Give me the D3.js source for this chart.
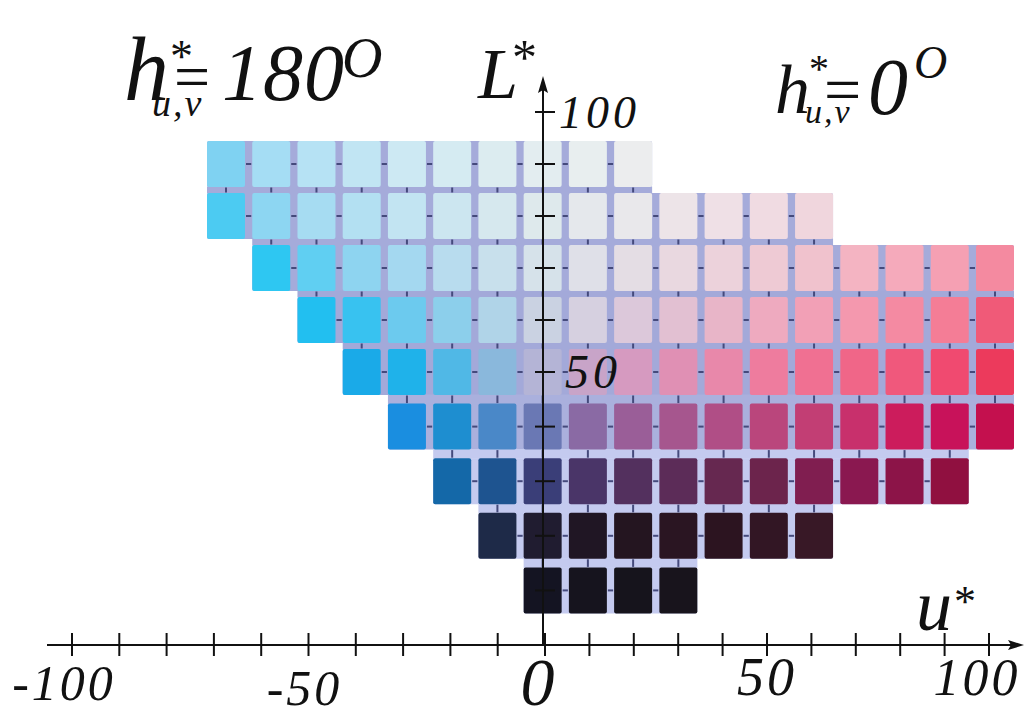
<!DOCTYPE html>
<html><head><meta charset="utf-8">
<script src="https://cdn.jsdelivr.net/npm/d3@7"></script>
<style>
html,body{margin:0;padding:0;background:#fff;}
svg{display:block;}
text{font-family:"Liberation Serif","Times New Roman",serif;font-style:italic;fill:#111;}
</style>
</head><body>
<svg id="c" width="1024" height="720"></svg>
<script>
// ---- data ----
const lightnessRows = [90, 80, 70, 60, 50, 40, 30, 20, 10];
const uCategories = [-70, -60, -50, -40, -30, -20, -10, 0, 10, 20, 30, 40, 50, 60, 70, 80, 90, 100];
const rowSpans = [[-70, 20], [-70, 60], [-60, 100], [-50, 100], [-40, 100], [-30, 100], [-20, 90], [-10, 60], [0, 30]];
const rowColors = [
  ["#7fd2f2","#a5ddf4","#b6e2f4","#c1e5f3","#cde9f3","#d5ebf2","#dcecf0","#e3edf0","#e8eeef","#ecedee"],
  ["#4ccbf2","#8dd6f2","#a6dcf2","#b3e0f2","#c2e4f2","#cce6f0","#d6e8ee","#dee9ec","#e5e8ec","#e9e8eb","#ede4e8","#efe0e6","#f0dbe2","#f0d6dd"],
  ["#2ec7f2","#60cff2","#8ed4f0","#a4d8f0","#b8dcee","#c8e0ec","#d6e2ea","#dfe0e8","#e4dde4","#e9d8e0","#ecd2db","#eecad4","#f0c2cd","#f4b4c2","#f5aabb","#f5a0b3","#f48aa0"],
  ["#22bff0","#38c2f0","#6ccaee","#8ccfeb","#b0d4e8","#cad2e2","#d6d0e0","#dcc8da","#e2c0d2","#e8b5c8","#eeaabf","#f2a0b6","#f498ae","#f48aa2","#f47d96","#f05a78"],
  ["#1aaae8","#1fb2ea","#50b8e6","#8ab8dc","#b4b4d6","#c8a4c8","#d69ac0","#e090b4","#e888aa","#ee7c9e","#f07092","#f06688","#f0587c","#f04a70","#ec3a5c"],
  ["#1a8ee0","#1e8ed0","#4a88c8","#6a78b4","#8a6aa4","#9a5e98","#a6568e","#b04e86","#ba467c","#c23e74","#c8306c","#cc1c5c","#c8125a","#c4104e"],
  ["#1468a8","#1e5490","#3a3e78","#4a3568","#53305e","#5c2c58","#662850","#6c244c","#801e50","#8a1850","#8c1448","#901040"],
  ["#1e2a48","#201c30","#201624","#241520","#2a1522","#2c1420","#321624","#381826"],
  ["#141422","#16141e","#16141c","#18141c"]
];
const rowGridColors = ["#a5abda","#a5abda","#a5abda","#a3a9d9","#a3a9d9","#aab0dd","#c4caef","#c4caef","#c4caef"];
const xTicks = [-100, -90, -80, -70, -60, -50, -40, -30, -20, -10, 0, 10, 20, 30, 40, 50, 60, 70, 80, 90, 100];
const yTicks = [10, 20, 30, 40, 50, 60, 70, 80, 90, 100];
const xTickLabels = [
  {v: -100, t: "-100", size: 50, dy: 700, dx: -8},
  {v: -50, t: "-50", size: 50, dy: 705, dx: -4},
  {v: 0, t: "0", size: 68, dy: 705, dx: -6},
  {v: 50, t: "50", size: 54, dy: 695, dx: 0},
  {v: 100, t: "100", size: 52, dy: 695, dx: -12}
];
const yTickLabels = [{v: 100, t: "100", size: 46, dx: 16}, {v: 50, t: "50", size: 48, dx: 22}];

// ---- scales ----
const uAxis = d3.scaleLinear().domain([-100, 0, 100]).range([72, 545, 989]);
const uCell = d3.scaleLinear().domain([-70, 100]).range([226, 995]);
const yL = d3.scaleLinear().domain([0, 50, 100]).range([645, 372, 112]);
const axisX = uAxis(0) - 2;
const halfW = 19, halfH = 23;

const svg = d3.select("#c");

// ---- rows ----
const rows = lightnessRows.map((l, i) => {
  const cats = uCategories.filter(u => u >= rowSpans[i][0] && u <= rowSpans[i][1]);
  return {l, i, cells: cats.map((u, j) => ({u, l, color: rowColors[i][j]})),
    x0: uCell(rowSpans[i][0]) - halfW, x1: uCell(rowSpans[i][1]) + halfW,
    y0: yL(l) - halfH, y1: yL(l) + halfH, grid: rowGridColors[i], cats};
});

const gGrid = svg.append("g");
gGrid.selectAll("rect.row").data(rows).join("rect")
  .attr("x", d => d.x0).attr("y", d => d.y0)
  .attr("width", d => d.x1 - d.x0).attr("height", d => d.y1 - d.y0)
  .attr("fill", d => d.grid).attr("rx", 2);
const bands = rows.slice(0, -1).map((r, i) => {
  const n = rows[i + 1];
  const lo = Math.max(rowSpans[i][0], rowSpans[i + 1][0]);
  const hi = Math.min(rowSpans[i][1], rowSpans[i + 1][1]);
  return {x0: uCell(lo) - halfW, x1: uCell(hi) + halfW, y0: r.y1 - 0.5, y1: n.y0 + 0.5, grid: n.grid,
    cats: uCategories.filter(u => u >= lo && u <= hi)};
});
gGrid.selectAll("rect.band").data(bands).join("rect")
  .attr("x", d => d.x0).attr("y", d => d.y0)
  .attr("width", d => d.x1 - d.x0).attr("height", d => d.y1 - d.y0)
  .attr("fill", d => d.grid);

const marks = svg.append("g").attr("stroke", "#454a7c").attr("stroke-width", 2);
bands.forEach(b => {
  marks.selectAll(null).data(b.cats).join("line")
    .attr("x1", u => uCell(u)).attr("x2", u => uCell(u))
    .attr("y1", b.y0 + 1).attr("y2", b.y1 - 1);
});
rows.forEach(r => {
  const gaps = r.cats.slice(0, -1);
  marks.selectAll(null).data(gaps).join("line")
    .attr("x1", u => uCell(u) + halfW + 1).attr("x2", u => uCell(u + 10) - halfW - 1)
    .attr("y1", yL(r.l)).attr("y2", yL(r.l));
});

const gCells = svg.append("g");
rows.forEach(r => {
  gCells.selectAll(null).data(r.cells).join("rect")
    .attr("x", d => uCell(d.u) - halfW).attr("y", d => yL(d.l) - halfH)
    .attr("width", halfW * 2).attr("height", halfH * 2)
    .attr("rx", 2).attr("fill", d => d.color);
});

// ---- axes ----
const axY = 645;
const ax = svg.append("g").attr("stroke", "#111").attr("stroke-width", 2).attr("fill", "none");
ax.append("line").attr("x1", 47).attr("x2", 1012).attr("y1", axY).attr("y2", axY);
ax.append("line").attr("x1", axisX).attr("x2", axisX).attr("y1", 90).attr("y2", axY);
svg.append("path").attr("d", `M1024,${axY} L1008,${axY - 5} L1011,${axY} L1008,${axY + 5} Z`).attr("fill", "#111");
svg.append("path").attr("d", `M${axisX},76 L${axisX - 5},93 L${axisX},90 L${axisX + 5},93 Z`).attr("fill", "#111");

ax.selectAll("line.xt").data(xTicks).join("line")
  .attr("x1", d => uAxis(d)).attr("x2", d => uAxis(d))
  .attr("y1", axY - 12).attr("y2", axY + 11);
ax.selectAll("line.yt").data(yTicks).join("line")
  .attr("x1", axisX - 8).attr("x2", axisX + 12)
  .attr("y1", d => yL(d)).attr("y2", d => yL(d));

svg.selectAll("text.xl").data(xTickLabels).join("text")
  .attr("x", d => uAxis(d.v) + d.dx).attr("y", d => d.dy)
  .attr("text-anchor", "middle").attr("font-size", d => d.size)
  .attr("letter-spacing", 3).text(d => d.t);
svg.selectAll("text.yl").data(yTickLabels).join("text")
  .attr("x", d => axisX + d.dx).attr("y", d => yL(d.v) + 16)
  .attr("font-size", d => d.size).attr("letter-spacing", 4).text(d => d.t);

// ---- titles ----
function t(x, y, size, str, ls) {
  return svg.append("text").attr("x", x).attr("y", y).attr("font-size", size)
    .attr("letter-spacing", ls || 0).text(str);
}
// left: h*_{u,v}=180°
t(124, 100, 90, "h");
t(170, 72, 46, "*").style("font-style", "normal");
t(174, 98, 64, "=").style("font-style", "normal");
t(152, 116, 38, "u,v", 2);
t(222, 100, 80, "180", 1);
t(342, 77, 56, "O");
// right: h*_{u,v}=0°
t(775, 113, 70, "h");
t(809, 82, 40, "*").style("font-style", "normal");
t(824, 112, 66, "=").style("font-style", "normal");
t(805, 123, 34, "u,v", 2);
t(868, 114, 80, "0");
t(914, 78, 46, "O");
// axis names
t(478, 98, 72, "L");
t(512, 74, 50, "*").style("font-style", "normal");
t(916, 630, 72, "u");
t(954, 616, 44, "*").style("font-style", "normal");
</script>
</body></html>
